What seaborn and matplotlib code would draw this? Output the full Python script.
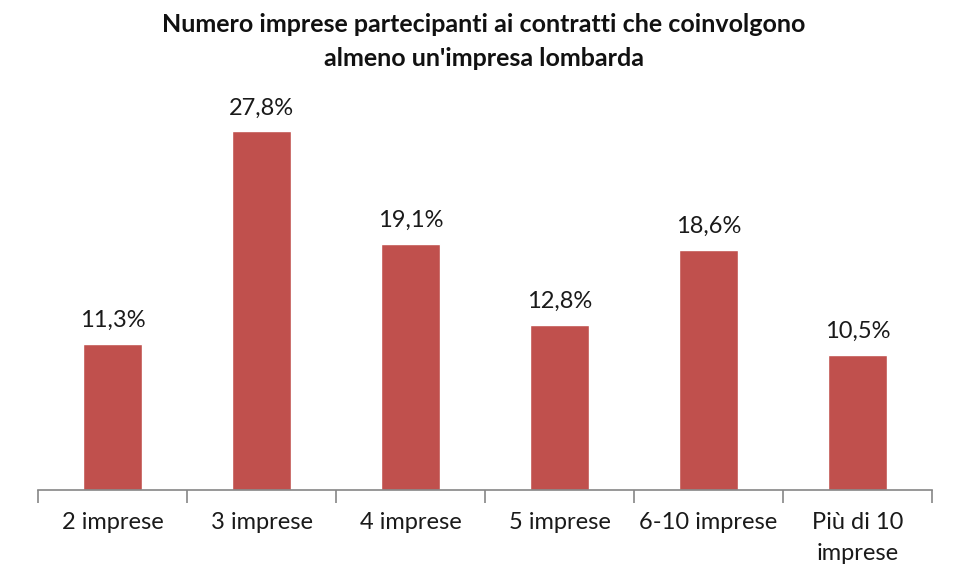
import matplotlib
matplotlib.use("Agg")
import matplotlib.pyplot as plt
import seaborn as sns
import pandas as pd
import numpy as np

categories = ["2 imprese", "3 imprese", "4 imprese", "5 imprese", "6-10 imprese", "Più di 10\nimprese"]
values = [11.3, 27.8, 19.1, 12.8, 18.6, 10.5]
labels = ["11,3%", "27,8%", "19,1%", "12,8%", "18,6%", "10,5%"]
title = "Numero imprese partecipanti ai contratti che coinvolgono\nalmeno un'impresa lombarda"

sns.set_theme(style="white")
plt.rcParams['font.family'] = ['Lato', 'DejaVu Sans']

df = pd.DataFrame({"cat": categories, "val": values})

fig = plt.figure(figsize=(9.68, 5.73), dpi=100)
ax = fig.add_axes([0.0393, 0.1449, 0.9236, 0.698])
sns.barplot(data=df, x="cat", y="val", color="#C0504D", saturation=1, width=0.4, ax=ax)

ax.set_ylim(0, 31)
ax.set_xlim(-0.5, len(categories) - 0.5)
for s in ["top", "right", "left"]:
    ax.spines[s].set_visible(False)
ax.spines["bottom"].set_color("#868686")
ax.spines["bottom"].set_linewidth(1.2)
ax.set_yticks([])
ax.set_xlabel("")
ax.set_ylabel("")
ax.set_xticks(np.arange(len(categories)))
ax.set_xticklabels(categories, fontsize=17, color="#1a1a1a", linespacing=1.55)
ax.tick_params(axis="x", which="major", length=0, pad=16)
ax.set_xticks(np.arange(-0.5, len(categories)), minor=True)
ax.tick_params(axis="x", which="minor", length=9, width=1.2, color="#868686", direction="out", bottom=True)

for i, (v, lab) in enumerate(zip(values, labels)):
    ax.text(i, v + 1.0, lab, ha="center", va="bottom", fontsize=17, color="#1a1a1a")

fig.text(0.5, 0.978, title, ha="center", va="top", fontsize=18, fontweight="bold",
         color="#111111", linespacing=1.6)

fig.savefig("out.png", dpi=100, facecolor="white")
